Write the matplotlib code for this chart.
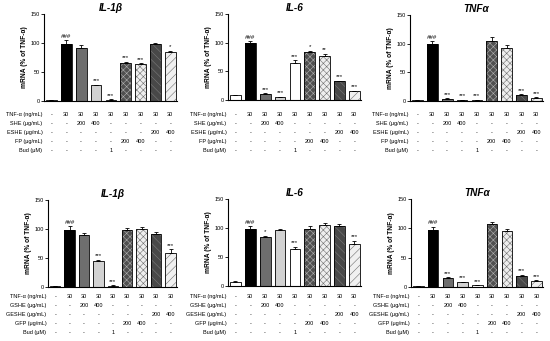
import numpy as np
import matplotlib
matplotlib.use('Agg')
import matplotlib.pyplot as plt
from matplotlib.transforms import blended_transform_factory

plt.rcParams['font.family'] = ['Liberation Sans', 'DejaVu Sans']
plt.rcParams['hatch.linewidth'] = 0.4

# ---- datos ----
il1b_top = [1, 99, 91, 27, 2, 65, 64, 98, 84]
il1b_top_err = [0, 6, 5, 1, 1, 3, 1, 2, 3]
il1b_top_sig = ['', '###', '', '***', '***', '***', '***', '', '*']

il6_top = [8, 99, 11, 5, 64, 83, 76, 33, 15]
il6_top_err = [1, 4, 1, 1, 5, 3, 5, 1, 1]
il6_top_sig = ['', '###', '***', '***', '***', '*', '**', '***', '***']

tnf_top = [1, 99, 4, 2, 2, 104, 93, 11, 6]
tnf_top_err = [0.5, 5, 1, 0.5, 0.5, 8, 4, 1, 1]
tnf_top_sig = ['', '###', '***', '***', '***', '', '', '***', '***']

il1b_bot = [1, 99, 90, 44, 2, 98, 100, 92, 59]
il1b_bot_err = [0, 6, 3, 3, 1, 4, 3, 3, 6]
il1b_bot_sig = ['', '###', '', '***', '***', '', '', '', '***']

il6_bot = [7, 98, 85, 97, 63, 99, 105, 103, 72]
il6_bot_err = [1, 5, 2, 1, 5, 5, 3, 4, 6]
il6_bot_sig = ['', '###', '*', '', '***', '', '', '', '***']

tnf_bot = [1, 97, 16, 8, 3, 108, 96, 19, 11]
tnf_bot_err = [0.5, 6, 1, 1, 0.5, 3, 3, 2, 1]
tnf_bot_sig = ['', '###', '***', '***', '***', '', '', '***', '***']

# filas de la tabla de tratamientos
tnf_row = ['-', '30', '30', '30', '30', '30', '30', '30', '30']
ext_row = ['-', '-', '200', '400', '-', '-', '-', '-', '-']
eext_row = ['-', '-', '-', '-', '-', '-', '-', '200', '400']
fp_row = ['-', '-', '-', '-', '-', '200', '400', '-', '-']
bud_row = ['-', '-', '-', '-', '1', '-', '-', '-', '-']

labels_top = ['TNF-α (ng/mL)', 'SHE (μg/mL)', 'ESHE (μg/mL)', 'FP (μg/mL)', 'Bud (μM)']
labels_bot = ['TNF-α (ng/mL)', 'GSHE (μg/mL)', 'GESHE (μg/mL)', 'GFP (μg/mL)', 'Bud (μM)']

# estilo de cada barra: (relleno, trama, color de trama)
estilos = [
    ('white', '', 'black'),
    ('black', '', 'black'),
    ('#6e6e6e', '', 'black'),
    ('#d2d2d2', '', 'black'),
    ('white', '', 'black'),
    ('#505050', 'xxxxx', '#b0b0b0'),
    ('#eeeeee', 'xxxxx', '#707070'),
    ('#484848', '\\\\\\\\', '#7a7a7a'),
    ('#f0f0f0', '////', '#707070'),
]

W, H = 550, 341
fig = plt.figure(figsize=(5.5, 3.41), dpi=100)


def panel(left, top, bottom, right, vals, err, sig, title, labels, row0):
    ax = fig.add_axes([left / W, 1 - bottom / H, (right - left) / W, (bottom - top) / H])
    x = np.arange(9)
    for i in range(9):
        face, hatch, hcol = estilos[i]
        ax.bar(x[i], vals[i], width=0.72, color=face, edgecolor=hcol, hatch=hatch,
               linewidth=0, zorder=2)
    ax.bar(x, vals, width=0.72, fill=False, edgecolor='black', linewidth=0.6, zorder=3)
    ax.errorbar(x, vals, yerr=[np.zeros(9), err], fmt='none', ecolor='black',
                elinewidth=0.6, capsize=1.6, capthick=0.6, zorder=4)
    for i in range(9):
        if sig[i]:
            ax.annotate(sig[i], (x[i], vals[i] + err[i]), xytext=(0, 1.0),
                        textcoords='offset points', ha='center', va='bottom',
                        fontsize=4.4, fontstyle='italic' if sig[i] == '###' else 'normal')

    ax.set_xlim(-0.5, 8.45)
    ax.set_ylim(0, 150)
    ax.set_yticks([0, 50, 100, 150])
    ax.set_xticks([])
    ax.tick_params(axis='y', length=2, width=0.6, labelsize=4, pad=1)
    for s in ['top', 'right']:
        ax.spines[s].set_visible(False)
    ax.spines['left'].set_linewidth(0.8)
    ax.spines['bottom'].set_linewidth(0.8)
    ax.set_ylabel('mRNA (% of TNF-α)', fontsize=4.8, fontweight='bold', labelpad=2)
    ax.set_title(title, fontsize=7.2, fontweight='bold', fontstyle='italic', pad=2.5)

    # tabla debajo del eje
    h_px = bottom - top
    trans = blended_transform_factory(ax.transData, ax.transAxes)
    filas = [tnf_row, ext_row, eext_row, fp_row, bud_row]
    for r, fila in enumerate(filas):
        y = -(row0 + 8.9 * r) / h_px
        ax.text(-0.012, y, labels[r], transform=ax.transAxes, ha='right', va='center',
                fontsize=4)
        for i, v in enumerate(fila):
            ax.text(x[i], y, v, transform=trans, ha='center', va='center', fontsize=4)
    return ax


panel(44, 14, 101, 177, il1b_top, il1b_top_err, il1b_top_sig, 'IL-1β', labels_top, 13.7)
panel(228, 14, 100, 361, il6_top, il6_top_err, il6_top_sig, 'IL-6', labels_top, 14.7)
panel(410, 15, 101, 543, tnf_top, tnf_top_err, tnf_top_sig, 'TNFα', labels_top, 13.7)

panel(48, 200, 287, 177, il1b_bot, il1b_bot_err, il1b_bot_sig, 'IL-1β', labels_bot, 9.7)
panel(228, 199, 286, 361, il6_bot, il6_bot_err, il6_bot_sig, 'IL-6', labels_bot, 10.7)
panel(411, 199, 287, 543, tnf_bot, tnf_bot_err, tnf_bot_sig, 'TNFα', labels_bot, 9.7)

plt.savefig('out.png', dpi=100)
